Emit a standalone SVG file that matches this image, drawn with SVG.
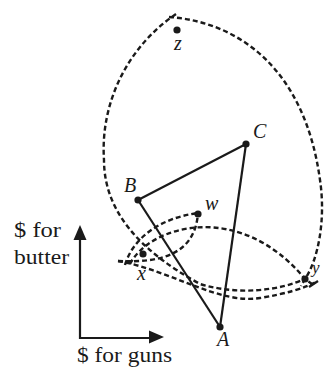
<svg xmlns="http://www.w3.org/2000/svg" width="324" height="371" viewBox="0 0 324 371">
<style>
.dash{fill:none;stroke:#1a1a1a;stroke-width:2.4;stroke-dasharray:5 3}
.solid{fill:none;stroke:#1a1a1a;stroke-width:2.2}
.dot{fill:#1a1a1a}
</style>
<rect width="324" height="371" fill="#fff"/>
<g id="connectors">
<path class="dash" d="M176,14 C130,45 100,100 104,160 C104,210 138,250 200,284 C240,296 280,290 305,279"/>
<path class="dash" d="M169,17 C240,22 305,70 320,180 C326,220 318,260 305,279 L301,286"/>
<path class="dash" d="M125,265 C133,238 160,218 198,213"/>
<path class="dash" d="M118,261 C160,263 195,255 198,213"/>
<path class="dash" d="M130,264 C150,225 240,200 305,279 L312,284"/>
<path class="dash" d="M118,261 C170,270 220,305 260,298 C285,294 305,288 316,282"/>
<line class="solid" x1="309" y1="287" x2="318" y2="281"/>
<line class="solid" x1="220" y1="327" x2="138" y2="200"/>
<line class="solid" x1="138" y1="200" x2="246" y2="144"/>
<line class="solid" x1="246" y1="144" x2="220" y2="327"/>
</g>
<g id="axes" font-family="Liberation Serif, serif" font-size="20" fill="#1a1a1a">
<path class="solid" d="M80,238 V338 H150" stroke-width="2.6"/>
<polygon class="dot" points="80,225 73.5,240 86.5,240"/>
<polygon class="dot" points="164,337 149,330.5 149,343.5"/>
<text x="14" y="237" textLength="47" lengthAdjust="spacingAndGlyphs">$ for</text>
<text x="14" y="264" textLength="55" lengthAdjust="spacingAndGlyphs">butter</text>
<text x="77" y="362" textLength="95" lengthAdjust="spacingAndGlyphs">$ for guns</text>
</g>
<g font-family="Liberation Serif, serif" font-style="italic" font-size="20" fill="#1a1a1a">
<g id="z"><circle class="dot" cx="177" cy="30" r="3.6"/><text x="174" y="50">z</text></g>
<g id="C"><circle class="dot" cx="246" cy="144" r="3.6"/><text x="253" y="138">C</text></g>
<g id="B"><circle class="dot" cx="138" cy="200" r="3.6"/><text x="124" y="192">B</text></g>
<g id="w"><circle class="dot" cx="198" cy="214" r="3.6"/><text x="205" y="210">w</text></g>
<g id="x"><circle class="dot" cx="143" cy="254" r="3.6"/><text x="137" y="280">x</text></g>
<g id="y"><circle class="dot" cx="305" cy="279" r="3.6"/><text x="312" y="273" font-size="17">y</text></g>
<g id="A"><circle class="dot" cx="220" cy="327" r="3.6"/><text x="217" y="346">A</text></g>
</g>
</svg>
